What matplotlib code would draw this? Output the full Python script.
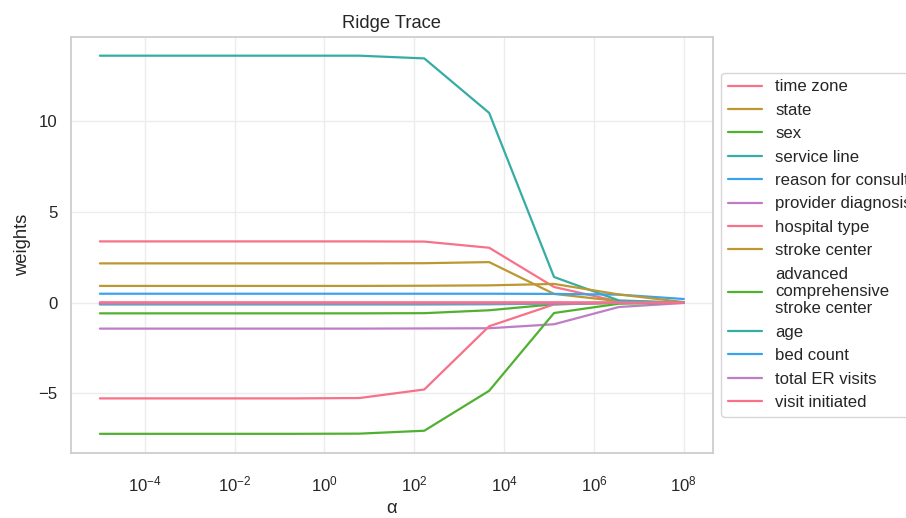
import numpy as np
import matplotlib
matplotlib.use("Agg")
import matplotlib.pyplot as plt
import seaborn as sns

# ridge trace: weights per feature along alpha
alphas = [1e-5, 2.78e-4, 7.74e-3, 0.215, 5.99, 166.8, 4642.0, 1.29e5, 3.59e6, 1e8]

features = [
    "time zone",
    "state",
    "sex",
    "service line",
    "reason for consult",
    "provider diagnosis",
    "hospital type",
    "stroke center",
    "advanced\ncomprehensive\nstroke center",
    "age",
    "bed count",
    "total ER visits",
    "visit initiated",
]

w_time_zone = [3.37, 3.37, 3.37, 3.37, 3.37, 3.36, 3.02, 0.86, 0.06, 0.0]
w_state = [2.16, 2.16, 2.16, 2.16, 2.16, 2.17, 2.23, 0.48, 0.08, 0.0]
w_sex = [-0.59, -0.59, -0.59, -0.59, -0.59, -0.58, -0.42, -0.09, -0.01, 0.0]
w_service_line = [13.59, 13.59, 13.59, 13.59, 13.59, 13.44, 10.44, 1.41, 0.12, 0.0]
w_reason = [0.49, 0.49, 0.49, 0.49, 0.49, 0.49, 0.49, 0.48, 0.44, 0.2]
w_provider_dx = [-1.43, -1.43, -1.43, -1.43, -1.43, -1.42, -1.41, -1.19, -0.24, -0.02]
w_hospital_type = [-5.27, -5.27, -5.27, -5.27, -5.25, -4.78, -1.30, -0.10, -0.01, 0.0]
w_stroke_center = [0.92, 0.92, 0.92, 0.92, 0.92, 0.93, 0.95, 1.03, 0.45, 0.03]
w_advanced = [-7.22, -7.22, -7.22, -7.22, -7.21, -7.05, -4.85, -0.57, -0.06, 0.0]
w_age = [-0.10, -0.10, -0.10, -0.10, -0.10, -0.10, -0.09, -0.05, -0.01, 0.0]
w_bed_count = [-0.03, -0.03, -0.03, -0.03, -0.03, -0.03, -0.03, -0.02, -0.01, 0.0]
w_total_er = [-0.05, -0.05, -0.05, -0.05, -0.05, -0.05, -0.05, -0.04, -0.01, 0.0]
w_visit_initiated = [0.02, 0.02, 0.02, 0.02, 0.02, 0.02, 0.02, 0.02, 0.01, 0.0]

weights = [
    w_time_zone, w_state, w_sex, w_service_line, w_reason, w_provider_dx,
    w_hospital_type, w_stroke_center, w_advanced, w_age, w_bed_count,
    w_total_er, w_visit_initiated,
]

sns.set_theme(style="whitegrid", font_scale=1.1)
plt.rcParams["font.family"] = ["Liberation Sans", "DejaVu Sans"]
plt.rcParams["mathtext.fontset"] = "custom"
plt.rcParams["mathtext.rm"] = "Liberation Sans"
plt.rcParams["mathtext.it"] = "Liberation Sans:italic"
plt.rcParams["mathtext.bf"] = "Liberation Sans:bold"

colors = sns.color_palette("husl", 6)
colors[5] = "#bf7dc6"  # the purple in the original is more muted

fig = plt.figure(figsize=(9.06, 5.18), dpi=100)
ax = fig.add_axes([0.078, 0.126, 0.709, 0.803])

for i, (name, w) in enumerate(zip(features, weights)):
    ax.plot(alphas, w, color=colors[i % 6], lw=1.6, label=name)

ax.set_xscale("log")
ax.set_xlabel("α", labelpad=4)
ax.set_ylabel("weights", labelpad=5)
ax.set_title("Ridge Trace")
ax.tick_params(axis="x", pad=10)
ax.grid(True, color="#ececec")
for s in ax.spines.values():
    s.set_color("#cccccc")
ax.legend(loc="center left", bbox_to_anchor=(1, 0.5))

fig.savefig("out.png", dpi=100)
